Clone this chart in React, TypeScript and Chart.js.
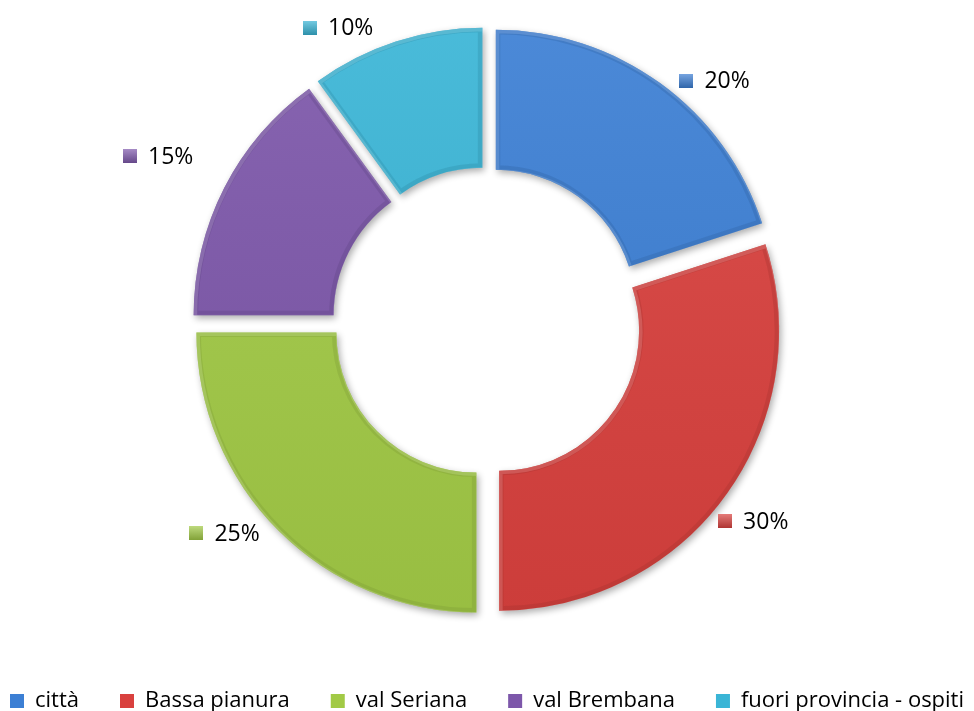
import React, { useEffect, useRef } from 'react';
import { Chart, registerables } from 'chart.js';

Chart.register(...registerables);

const categories = ['città', 'Bassa pianura', 'val Seriana', 'val Brembana', 'fuori provincia - ospiti'];
const values = [20, 30, 25, 15, 10];
const colors = ['#3C7FD4', '#D9413E', '#A2CA46', '#7D57AA', '#3AB5D6'];

// label placement tweaks (degrees clockwise, extra px outward) — style config, not data
const labelAngleNudge = [5.4, 2.7, 4.3, 1.2, -7.3];
const labelRadiusNudge = [-3, -6, -1, 26, 1];

const EXPLODE = 15;
const FONT = '"Open Sans", "Noto Sans", sans-serif';
const CANVAS_W = 1060;
const CANVAS_H = 727;
const CANVAS_TOP = -5;

function shade(hex: string, amt: number): string {
  const n = parseInt(hex.slice(1), 16);
  const r = (n >> 16) & 255, g = (n >> 8) & 255, b = n & 255;
  const f = (c: number) => {
    const v = amt >= 0 ? c + (255 - c) * amt : c * (1 + amt);
    return Math.max(0, Math.min(255, Math.round(v)));
  };
  return `rgb(${f(r)},${f(g)},${f(b)})`;
}

const explodedArcs = {
  id: 'explodedArcs',
  beforeDatasetDraw(chart: any, args: any) {
    const ctx: CanvasRenderingContext2D = chart.ctx;
    const meta = args.meta;
    meta.data.forEach((arc: any, i: number) => {
      const p = arc.getProps(['x', 'y', 'startAngle', 'endAngle', 'innerRadius', 'outerRadius'], true);
      const mid = (p.startAngle + p.endAngle) / 2;
      const cx = p.x + Math.cos(mid) * EXPLODE;
      const cy = p.y + Math.sin(mid) * EXPLODE;
      const color = colors[i % colors.length];
      const path = new Path2D();
      path.arc(cx, cy, p.outerRadius, p.startAngle, p.endAngle);
      path.arc(cx, cy, p.innerRadius, p.endAngle, p.startAngle, true);
      path.closePath();

      ctx.save();
      ctx.shadowColor = 'rgba(0,0,0,0.33)';
      ctx.shadowBlur = 7;
      ctx.shadowOffsetX = 2;
      ctx.shadowOffsetY = 3;
      ctx.fillStyle = color;
      ctx.fill(path);
      ctx.restore();

      ctx.save();
      ctx.clip(path);
      const g = ctx.createLinearGradient(0, cy - p.outerRadius, 0, cy + p.outerRadius);
      g.addColorStop(0, 'rgba(255,255,255,0.08)');
      g.addColorStop(1, 'rgba(0,0,0,0.06)');
      ctx.fillStyle = g;
      ctx.fill(path);
      ctx.lineJoin = 'round';
      ctx.lineWidth = 9;
      ctx.strokeStyle = shade(color, -0.25);
      ctx.globalAlpha = 0.3;
      ctx.stroke(path);
      ctx.lineWidth = 4;
      ctx.strokeStyle = shade(color, 0.4);
      ctx.globalAlpha = 0.35;
      ctx.translate(1.5, 1.5);
      ctx.stroke(path);
      ctx.restore();
    });
    return false;
  },
};

const outsideLabels = {
  id: 'outsideLabels',
  afterDatasetsDraw(chart: any) {
    const ctx: CanvasRenderingContext2D = chart.ctx;
    const meta = chart.getDatasetMeta(0);
    const total = values.reduce((a, b) => a + b, 0);
    ctx.save();
    ctx.font = `23px ${FONT}`;
    ctx.textBaseline = 'middle';
    ctx.fillStyle = '#000';
    meta.data.forEach((arc: any, i: number) => {
      const p = arc.getProps(['x', 'y', 'startAngle', 'endAngle', 'outerRadius'], true);
      const mid = (p.startAngle + p.endAngle) / 2 + ((labelAngleNudge[i] || 0) * Math.PI) / 180;
      const text = `${Math.round((values[i] / total) * 100)}%`;
      const tw = ctx.measureText(text).width;
      const box = 14, gap = 11;
      const w = box + gap + tw, h = 25;
      const r0 = p.outerRadius + EXPLODE + 17 + (labelRadiusNudge[i] || 0);
      const ax = p.x + Math.cos(mid) * r0;
      const ay = p.y + Math.sin(mid) * r0;
      const bx = ax + (w / 2) * Math.cos(mid);
      const by = ay + (h / 2) * Math.sin(mid);
      const left = bx - w / 2;
      const color = colors[i % colors.length];
      const gr = ctx.createLinearGradient(0, by - box / 2, 0, by + box / 2);
      gr.addColorStop(0, shade(color, 0.3));
      gr.addColorStop(1, shade(color, -0.2));
      ctx.fillStyle = gr;
      ctx.fillRect(Math.round(left), Math.round(by - box / 2), box, box);
      ctx.fillStyle = '#000';
      ctx.fillText(text, left + box + gap, by + 1);
    });
    ctx.restore();
  },
};

export default function App() {
  const ref = useRef<HTMLCanvasElement | null>(null);
  useEffect(() => {
    if (!ref.current) return;
    const chart = new Chart(ref.current, {
      type: 'doughnut',
      data: {
        labels: categories,
        datasets: [
          {
            data: values,
            backgroundColor: colors,
            borderWidth: 0,
            radius: 280,
            cutout: '50%',
          } as any,
        ],
      },
      options: {
        animation: false,
        responsive: true,
        maintainAspectRatio: false,
        radius: 280,
        cutout: '50%',
        layout: { padding: 0 },
        plugins: {
          tooltip: { enabled: false },
          legend: {
            position: 'bottom',
            labels: {
              boxWidth: 14,
              boxHeight: 14,
              padding: 41,
              color: '#000',
              font: { family: FONT, size: 22 },
            },
          },
        },
      } as any,
      plugins: [explodedArcs, outsideLabels],
    });
    return () => chart.destroy();
  }, []);
  return (
    <div style={{ position: 'fixed', left: 0, top: 0, width: 974, height: 711, overflow: 'hidden', background: '#fff' }}>
      <div style={{ position: 'absolute', left: 487 - CANVAS_W / 2, top: CANVAS_TOP, width: CANVAS_W, height: CANVAS_H }}>
        <canvas ref={ref} />
      </div>
    </div>
  );
}
